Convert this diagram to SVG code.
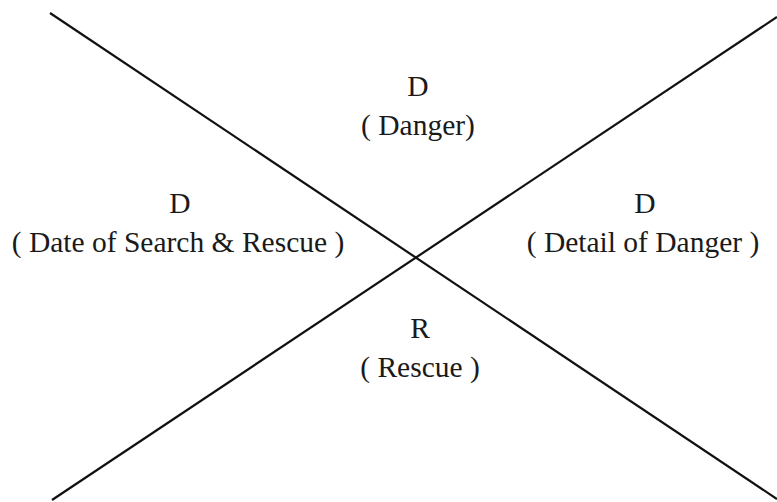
<svg xmlns="http://www.w3.org/2000/svg" width="777" height="502" viewBox="0 0 777 502">
<style>
.t{font-family:"Liberation Serif","Times New Roman",serif;font-size:29.5px;fill:#1a1a1a;text-anchor:middle}
.l{stroke:#111;stroke-width:2.2;fill:none}
</style>
<rect width="777" height="502" fill="#fff"/>
<g id="connectors">
<line class="l" x1="50" y1="13" x2="777" y2="499"/>
<line class="l" x1="52" y1="500" x2="777" y2="17"/>
</g>
<g id="top"><text class="t" x="418" y="96">D</text><text class="t" x="418" y="135">( Danger)</text></g>
<g id="left"><text class="t" x="180" y="213">D</text><text class="t" x="178" y="252">( Date of Search &amp; Rescue )</text></g>
<g id="right"><text class="t" x="645" y="213">D</text><text class="t" x="643" y="252">( Detail of Danger )</text></g>
<g id="bottom"><text class="t" x="420" y="338">R</text><text class="t" x="420" y="377">( Rescue )</text></g>
</svg>
